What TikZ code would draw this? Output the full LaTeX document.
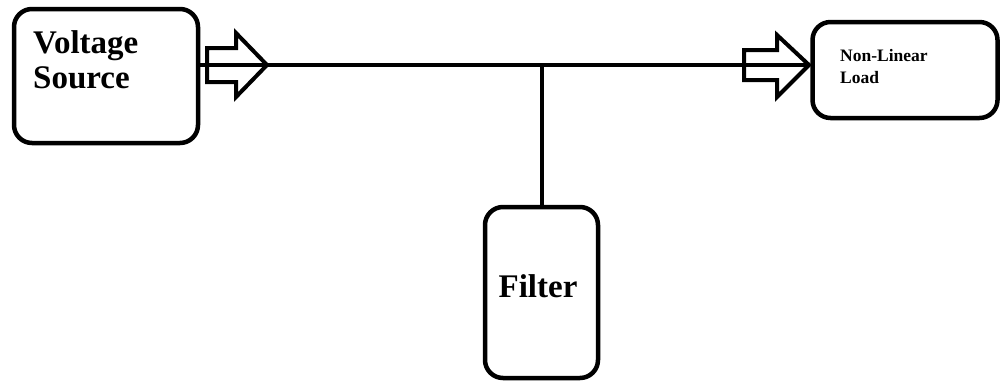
\documentclass[tikz,border=0pt]{standalone}
\usepackage{fontspec}
\setmainfont{Liberation Serif}
\begin{document}
\begin{tikzpicture}[x=1pt,y=-1pt,
  blockbox/.style={draw=black,line width=4.5pt,rounded corners=18pt,inner sep=0pt},
  bigtext/.style={font=\bfseries\fontsize{33}{35}\selectfont,inner sep=0pt},
  smalltext/.style={font=\bfseries\fontsize{17.5}{20}\selectfont,inner sep=0pt},
  wire/.style={line width=4pt,draw=black},
  hollowarrow/.style={line width=4pt,draw=black,line join=miter}]
\useasboundingbox (0,0) rectangle (1000,381);
% boxes
\node[blockbox,minimum width=184pt,minimum height=134pt] (vs) at (106,76) {};
\node[blockbox,minimum width=185pt,minimum height=96pt] (nll) at (905,70) {};
\node[blockbox,minimum width=113pt,minimum height=171pt] (filter) at (541.5,292.5) {};
% texts
\node[bigtext,anchor=base west] (vs1) at (33,53) {Voltage};
\node[bigtext,anchor=base west] (vs2) at (33,88) {Source};
\node[bigtext,anchor=base] (ft) at (538,297) {Filter};
\node[smalltext,anchor=base west] (nl1) at (840,61) {Non-Linear};
\node[smalltext,anchor=base west] (nl2) at (840,83) {Load};
% connectors
\coordinate (busL) at (vs.east |- 0,65);
\coordinate (busR) at (nll.west |- 0,65);
\draw[wire] (busL) -- (busR);
\draw[wire] (filter.north) -- (filter.north |- 0,65);
% hollow arrows
\draw[hollowarrow] (207,48) -- (236,48) -- (236,33) -- (267,65) -- (236,97) -- (236,82) -- (207,82) -- cycle;
\draw[hollowarrow] (744,50) -- (777,50) -- (777,35) -- (809,65) -- (777,97) -- (777,80) -- (744,80) -- cycle;
\end{tikzpicture}
\end{document}
